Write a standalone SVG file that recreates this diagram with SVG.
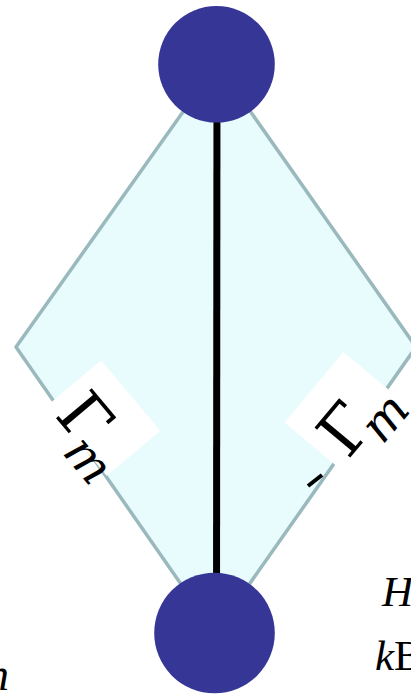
<svg xmlns="http://www.w3.org/2000/svg" width="411" height="694" viewBox="0 0 411 694">
<style>
.node{fill:#363697}
.lbl-bg{fill:#ffffff}
.gamma{font-family:"DejaVu Serif","Liberation Serif",serif;font-size:64px;fill:#000;text-anchor:middle}
.sub{font-family:"DejaVu Serif","Liberation Serif",serif;font-style:italic;font-size:48px;fill:#000;text-anchor:middle}
.math{font-family:"Liberation Serif","DejaVu Serif",serif;font-style:italic;fill:#000}
</style>
<rect width="411" height="694" fill="#ffffff"/>
<g id="face">
<polygon points="217,64 16,347 215,633 416,347" fill="#e8fbfd" stroke="#9ab9bd" stroke-width="3.5" stroke-linejoin="round"/>
</g>
<g id="connectors">
<line x1="217" y1="64" x2="216.5" y2="633" stroke="#000" stroke-width="7"/>
<line x1="308" y1="486" x2="322" y2="475" stroke="#000" stroke-width="4"/>
</g>
<g id="label-left" transform="translate(104,418) rotate(50)">
<rect class="lbl-bg" x="-46" y="-35" width="92" height="70"/>
<text class="gamma" x="-12" y="37">Γ</text>
<text class="sub" x="22" y="55">m</text>
</g>
<g id="label-right" transform="translate(340,409) rotate(-50)">
<rect class="lbl-bg" x="-46" y="-34" width="92" height="68"/>
<text class="gamma" x="-12" y="39">Γ</text>
<text class="sub" x="22" y="56">m</text>
</g>
<g id="node-top">
<circle class="node" cx="216.5" cy="64.3" r="58.3"/>
</g>
<g id="node-bottom">
<circle class="node" cx="214.5" cy="633" r="60.3"/>
</g>
<g id="side-text">
<text class="math" x="-14" y="690" font-size="46">n</text>
<text class="math" x="382" y="606" font-size="43">H</text>
<text class="math" x="375" y="670" font-size="43">k<tspan font-style="normal">B</tspan></text>
</g>
</svg>
